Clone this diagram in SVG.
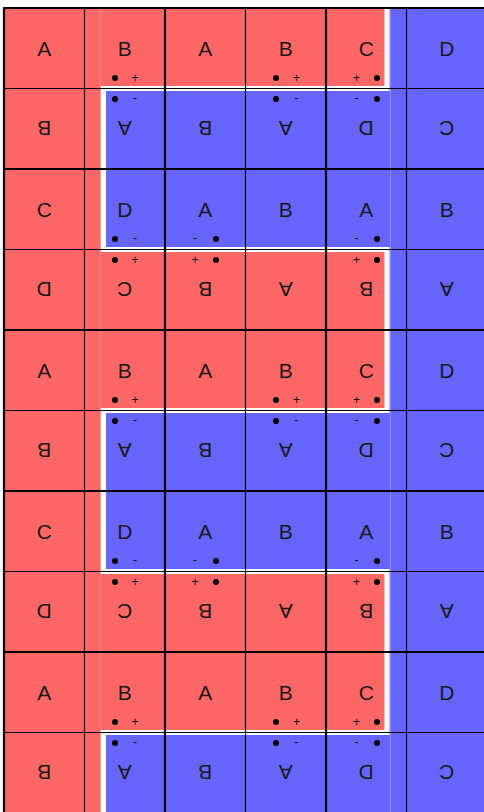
<svg xmlns="http://www.w3.org/2000/svg" width="484" height="812" viewBox="0 0 484 812">
<style>
.L{font-family:"Liberation Sans",Arial,sans-serif;font-size:21px;fill:#1a1a1a;text-anchor:middle}
.s{font-family:"Liberation Sans",Arial,sans-serif;font-size:12px;fill:#111;text-anchor:middle}
.d{fill:#000}
.thin{stroke:#000;stroke-width:1.2;fill:none}
.thick{stroke:#000;stroke-width:2.2;fill:none}
</style>
<rect x="0" y="0" width="484" height="812" fill="#fff"/>
<g id="regions">
<rect x="4" y="8" width="484" height="806" fill="#6666ff"/>
<path d="M4,8 H387 V88.5 H103.5 V249.5 H387 V410.5 H103.5 V571.5 H387 V732.5 H103.5 V814 H4 Z" fill="#ff6666"/>
<path d="M387,8 V88.5 H103.5 V249.5 H387 V410.5 H103.5 V571.5 H387 V732.5 H103.5 V814" fill="none" stroke="#fff" stroke-width="5"/>
<line x1="100.5" y1="8" x2="100.5" y2="814" stroke="#fff" stroke-opacity="0.3" stroke-width="1"/>
<line x1="390.5" y1="8" x2="390.5" y2="814" stroke="#fff" stroke-opacity="0.25" stroke-width="1"/>
</g>
<g id="grid">
<path class="thin" d="M84.5,8 V814 M245.5,8 V814 M406.5,8 V814 M4,88.5 H488 M4,249.5 H488 M4,410.5 H488 M4,571.5 H488 M4,732.5 H488"/>
<path class="thick" d="M4,7 V814 M165,8 V814 M326,8 V814 M487,8 V814 M3,8 H488 M4,169 H488 M4,330 H488 M4,491 H488 M4,652 H488"/>
</g>
<g id="r0">
<g id="r0c0"><text class="L" x="44.25" y="55.75">A</text></g>
<g id="r0c1"><text class="L" x="124.75" y="55.75">B</text><circle class="d" cx="115" cy="78" r="3"/><text class="s" x="135" y="82.2">+</text></g>
<g id="r0c2"><text class="L" x="205.25" y="55.75">A</text></g>
<g id="r0c3"><text class="L" x="285.75" y="55.75">B</text><circle class="d" cx="276" cy="78" r="3"/><text class="s" x="296.5" y="82.2">+</text></g>
<g id="r0c4"><text class="L" x="366.25" y="55.75">C</text><text class="s" x="356.5" y="82.2">+</text><circle class="d" cx="377" cy="78" r="3"/></g>
<g id="r0c5"><text class="L" x="446.75" y="55.75">D</text></g>
</g>
<g id="r1">
<g id="r1c0"><text class="L" x="44.25" y="136.25" transform="rotate(180 44.25 128.75)">B</text></g>
<g id="r1c1"><text class="L" x="124.75" y="136.25" transform="rotate(180 124.75 128.75)">A</text><circle class="d" cx="115" cy="99" r="3"/><text class="s" x="135" y="102.3">-</text></g>
<g id="r1c2"><text class="L" x="205.25" y="136.25" transform="rotate(180 205.25 128.75)">B</text></g>
<g id="r1c3"><text class="L" x="285.75" y="136.25" transform="rotate(180 285.75 128.75)">A</text><circle class="d" cx="276" cy="99" r="3"/><text class="s" x="296.5" y="102.3">-</text></g>
<g id="r1c4"><text class="L" x="366.25" y="136.25" transform="rotate(180 366.25 128.75)">D</text><text class="s" x="356.5" y="102.3">-</text><circle class="d" cx="377" cy="99" r="3"/></g>
<g id="r1c5"><text class="L" x="446.75" y="136.25" transform="rotate(180 446.75 128.75)">C</text></g>
</g>
<g id="r2">
<g id="r2c0"><text class="L" x="44.25" y="216.75">C</text></g>
<g id="r2c1"><text class="L" x="124.75" y="216.75">D</text><circle class="d" cx="115" cy="239" r="3"/><text class="s" x="135" y="242.3">-</text></g>
<g id="r2c2"><text class="L" x="205.25" y="216.75">A</text><text class="s" x="195" y="242.3">-</text><circle class="d" cx="216" cy="239" r="3"/></g>
<g id="r2c3"><text class="L" x="285.75" y="216.75">B</text></g>
<g id="r2c4"><text class="L" x="366.25" y="216.75">A</text><text class="s" x="356.5" y="242.3">-</text><circle class="d" cx="377" cy="239" r="3"/></g>
<g id="r2c5"><text class="L" x="446.75" y="216.75">B</text></g>
</g>
<g id="r3">
<g id="r3c0"><text class="L" x="44.25" y="297.25" transform="rotate(180 44.25 289.75)">D</text></g>
<g id="r3c1"><text class="L" x="124.75" y="297.25" transform="rotate(180 124.75 289.75)">C</text><circle class="d" cx="115" cy="260" r="3"/><text class="s" x="135" y="264.2">+</text></g>
<g id="r3c2"><text class="L" x="205.25" y="297.25" transform="rotate(180 205.25 289.75)">B</text><text class="s" x="195" y="264.2">+</text><circle class="d" cx="216" cy="260" r="3"/></g>
<g id="r3c3"><text class="L" x="285.75" y="297.25" transform="rotate(180 285.75 289.75)">A</text></g>
<g id="r3c4"><text class="L" x="366.25" y="297.25" transform="rotate(180 366.25 289.75)">B</text><text class="s" x="356.5" y="264.2">+</text><circle class="d" cx="377" cy="260" r="3"/></g>
<g id="r3c5"><text class="L" x="446.75" y="297.25" transform="rotate(180 446.75 289.75)">A</text></g>
</g>
<g id="r4">
<g id="r4c0"><text class="L" x="44.25" y="377.75">A</text></g>
<g id="r4c1"><text class="L" x="124.75" y="377.75">B</text><circle class="d" cx="115" cy="400" r="3"/><text class="s" x="135" y="404.2">+</text></g>
<g id="r4c2"><text class="L" x="205.25" y="377.75">A</text></g>
<g id="r4c3"><text class="L" x="285.75" y="377.75">B</text><circle class="d" cx="276" cy="400" r="3"/><text class="s" x="296.5" y="404.2">+</text></g>
<g id="r4c4"><text class="L" x="366.25" y="377.75">C</text><text class="s" x="356.5" y="404.2">+</text><circle class="d" cx="377" cy="400" r="3"/></g>
<g id="r4c5"><text class="L" x="446.75" y="377.75">D</text></g>
</g>
<g id="r5">
<g id="r5c0"><text class="L" x="44.25" y="458.25" transform="rotate(180 44.25 450.75)">B</text></g>
<g id="r5c1"><text class="L" x="124.75" y="458.25" transform="rotate(180 124.75 450.75)">A</text><circle class="d" cx="115" cy="421" r="3"/><text class="s" x="135" y="424.3">-</text></g>
<g id="r5c2"><text class="L" x="205.25" y="458.25" transform="rotate(180 205.25 450.75)">B</text></g>
<g id="r5c3"><text class="L" x="285.75" y="458.25" transform="rotate(180 285.75 450.75)">A</text><circle class="d" cx="276" cy="421" r="3"/><text class="s" x="296.5" y="424.3">-</text></g>
<g id="r5c4"><text class="L" x="366.25" y="458.25" transform="rotate(180 366.25 450.75)">D</text><text class="s" x="356.5" y="424.3">-</text><circle class="d" cx="377" cy="421" r="3"/></g>
<g id="r5c5"><text class="L" x="446.75" y="458.25" transform="rotate(180 446.75 450.75)">C</text></g>
</g>
<g id="r6">
<g id="r6c0"><text class="L" x="44.25" y="538.75">C</text></g>
<g id="r6c1"><text class="L" x="124.75" y="538.75">D</text><circle class="d" cx="115" cy="561" r="3"/><text class="s" x="135" y="564.3">-</text></g>
<g id="r6c2"><text class="L" x="205.25" y="538.75">A</text><text class="s" x="195" y="564.3">-</text><circle class="d" cx="216" cy="561" r="3"/></g>
<g id="r6c3"><text class="L" x="285.75" y="538.75">B</text></g>
<g id="r6c4"><text class="L" x="366.25" y="538.75">A</text><text class="s" x="356.5" y="564.3">-</text><circle class="d" cx="377" cy="561" r="3"/></g>
<g id="r6c5"><text class="L" x="446.75" y="538.75">B</text></g>
</g>
<g id="r7">
<g id="r7c0"><text class="L" x="44.25" y="619.25" transform="rotate(180 44.25 611.75)">D</text></g>
<g id="r7c1"><text class="L" x="124.75" y="619.25" transform="rotate(180 124.75 611.75)">C</text><circle class="d" cx="115" cy="582" r="3"/><text class="s" x="135" y="586.2">+</text></g>
<g id="r7c2"><text class="L" x="205.25" y="619.25" transform="rotate(180 205.25 611.75)">B</text><text class="s" x="195" y="586.2">+</text><circle class="d" cx="216" cy="582" r="3"/></g>
<g id="r7c3"><text class="L" x="285.75" y="619.25" transform="rotate(180 285.75 611.75)">A</text></g>
<g id="r7c4"><text class="L" x="366.25" y="619.25" transform="rotate(180 366.25 611.75)">B</text><text class="s" x="356.5" y="586.2">+</text><circle class="d" cx="377" cy="582" r="3"/></g>
<g id="r7c5"><text class="L" x="446.75" y="619.25" transform="rotate(180 446.75 611.75)">A</text></g>
</g>
<g id="r8">
<g id="r8c0"><text class="L" x="44.25" y="699.75">A</text></g>
<g id="r8c1"><text class="L" x="124.75" y="699.75">B</text><circle class="d" cx="115" cy="722" r="3"/><text class="s" x="135" y="726.2">+</text></g>
<g id="r8c2"><text class="L" x="205.25" y="699.75">A</text></g>
<g id="r8c3"><text class="L" x="285.75" y="699.75">B</text><circle class="d" cx="276" cy="722" r="3"/><text class="s" x="296.5" y="726.2">+</text></g>
<g id="r8c4"><text class="L" x="366.25" y="699.75">C</text><text class="s" x="356.5" y="726.2">+</text><circle class="d" cx="377" cy="722" r="3"/></g>
<g id="r8c5"><text class="L" x="446.75" y="699.75">D</text></g>
</g>
<g id="r9">
<g id="r9c0"><text class="L" x="44.25" y="780.25" transform="rotate(180 44.25 772.75)">B</text></g>
<g id="r9c1"><text class="L" x="124.75" y="780.25" transform="rotate(180 124.75 772.75)">A</text><circle class="d" cx="115" cy="743" r="3"/><text class="s" x="135" y="746.3">-</text></g>
<g id="r9c2"><text class="L" x="205.25" y="780.25" transform="rotate(180 205.25 772.75)">B</text></g>
<g id="r9c3"><text class="L" x="285.75" y="780.25" transform="rotate(180 285.75 772.75)">A</text><circle class="d" cx="276" cy="743" r="3"/><text class="s" x="296.5" y="746.3">-</text></g>
<g id="r9c4"><text class="L" x="366.25" y="780.25" transform="rotate(180 366.25 772.75)">D</text><text class="s" x="356.5" y="746.3">-</text><circle class="d" cx="377" cy="743" r="3"/></g>
<g id="r9c5"><text class="L" x="446.75" y="780.25" transform="rotate(180 446.75 772.75)">C</text></g>
</g>
</svg>
